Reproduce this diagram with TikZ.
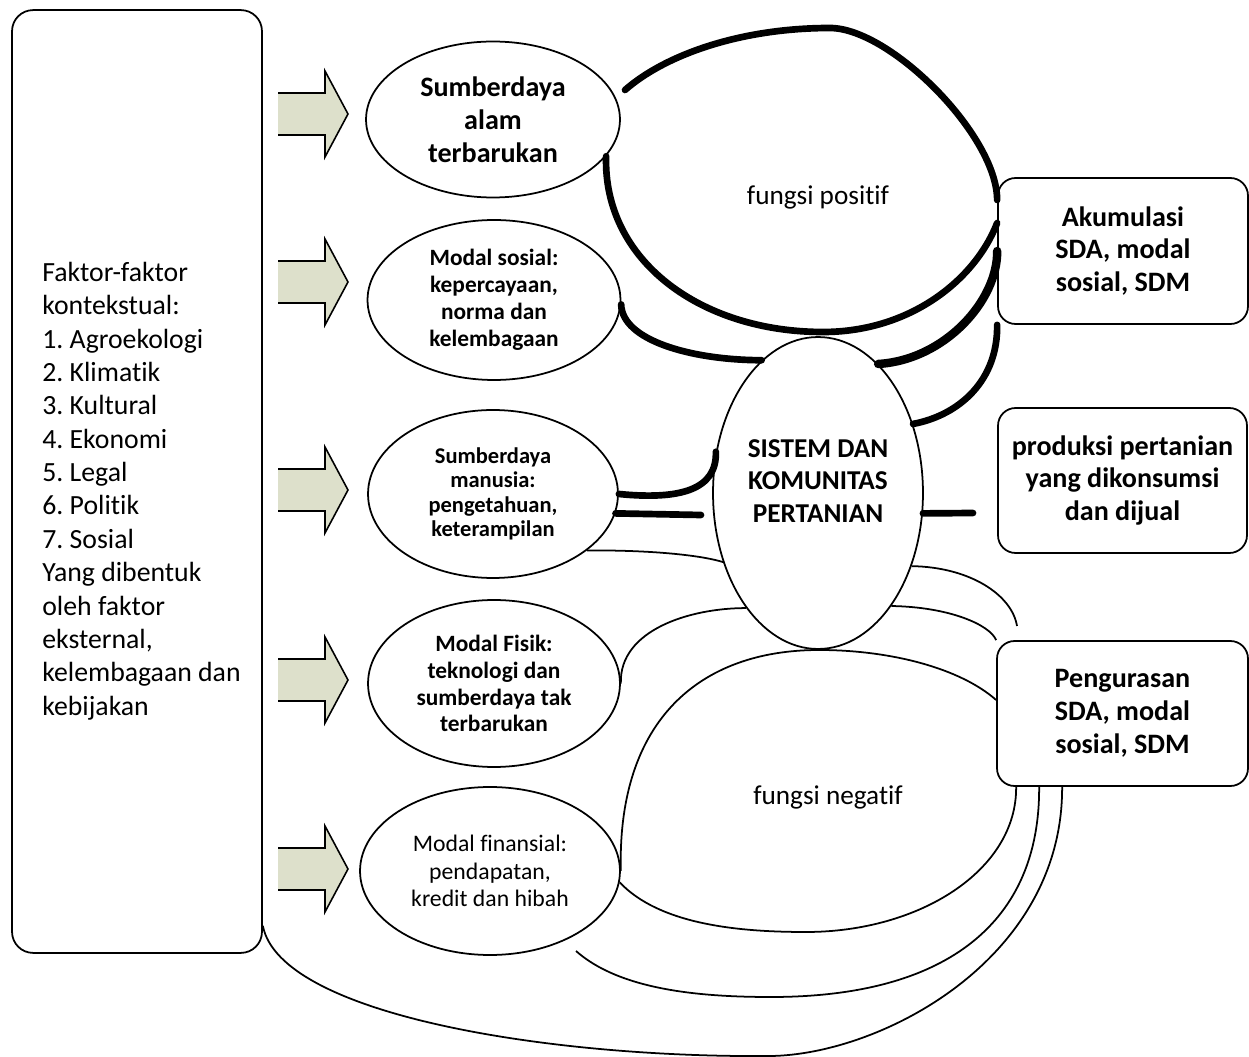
\documentclass[tikz,border=0pt]{standalone}
\usepackage{fontspec}
\setmainfont{Carlito}[Ligatures=NoCommon]
\usetikzlibrary{shapes.geometric}
\definecolor{arrowfill}{RGB}{221,224,203}
\frenchspacing

\begin{document}
\begin{tikzpicture}[
  x=0.02cm,
  y=-0.02cm,
  line/.style={draw=black,line width=1pt},
  posline/.style={draw=black,line width=3.8pt,line cap=round},
  capital/.style={line,ellipse,inner sep=0pt,align=center,
                  font=\bfseries\fontsize{13.3}{15.3}\selectfont},
  outcome/.style={line,rounded corners=10pt,align=center,minimum width=5cm,minimum height=2.9cm,
                  font=\bfseries\fontsize{16}{18.7}\selectfont},
  fungsi/.style={font=\fontsize{15.5}{17}\selectfont}
]
\useasboundingbox (0,0) rectangle (1249,1057);

% ---------------------------------------------------------------- contextual factors
\node[line,rounded corners=12pt,minimum width=5cm,minimum height=18.86cm] (faktor) at (137,481.5) {};
\node[align=left,anchor=west,inner sep=0pt,font=\fontsize{15.8}{19}\selectfont] (faktortext) at (42,491)
  {Faktor-faktor\\kontekstual:\\1. Agroekologi\\2. Klimatik\\3. Kultural\\4. Ekonomi\\5. Legal\\
   6. Politik\\7. Sosial\\Yang dibentuk\\oleh faktor\\eksternal,\\kelembagaan dan\\kebijakan};

% block arrows (open tail)
\foreach \ay in {114,282,490,680,869}{
  \fill[arrowfill] (278,{\ay-21}) -- (325,{\ay-21}) -- (325,{\ay-43}) -- (348,\ay)
    -- (325,{\ay+43}) -- (325,{\ay+21}) -- (278,{\ay+21}) -- cycle;
  \draw[line,line width=0.9pt] (278,{\ay-21}) -- (325,{\ay-21}) -- (325,{\ay-43}) -- (348,\ay)
    -- (325,{\ay+43}) -- (325,{\ay+21}) -- (278,{\ay+21});
}

% ---------------------------------------------------------------- capitals
\node[capital,minimum width=5.08cm,minimum height=3.12cm,font=\bfseries\fontsize{16}{18.7}\selectfont]
  (alam) at (493,119.5) {Sumberdaya\\alam\\terbarukan};
\node[capital,minimum width=5.06cm,minimum height=3.2cm] (sosial) at (494,300)
  {Modal sosial:\\kepercayaan,\\norma dan\\kelembagaan};
\node[capital,minimum width=5.0cm,minimum height=3.36cm,font=\bfseries\fontsize{12.8}{13.8}\selectfont]
  (manusia) at (493,494) {Sumberdaya\\manusia:\\pengetahuan,\\keterampilan};
\node[capital,minimum width=5.04cm,minimum height=3.34cm] (fisik) at (494,683.5)
  {Modal Fisik:\\teknologi dan\\sumberdaya tak\\terbarukan};
\node[capital,minimum width=5.2cm,minimum height=3.36cm,font=\fontsize{13.5}{15.5}\selectfont]
  (finansial) at (490,871) {Modal finansial:\\pendapatan,\\kredit dan hibah};

% ---------------------------------------------------------------- system and outcomes
\node[capital,minimum width=4.2cm,minimum height=6.24cm] (sistem) at (818,493) {};
\node[align=center,inner sep=0pt,font=\bfseries\fontsize{15.5}{18.7}\selectfont] (sistemtext) at (818,481)
  {SISTEM DAN\\KOMUNITAS\\PERTANIAN};
\node[outcome,minimum width=5cm,minimum height=2.92cm] (akum) at (1123,251)
  {Akumulasi\\SDA, modal\\sosial, SDM};
\node[outcome,minimum width=4.98cm] (produksi) at (1122.5,480.5)
  {produksi pertanian\\yang dikonsumsi\\dan dijual};
\node[outcome,minimum width=5.02cm] (kuras) at (1122.5,713.5)
  {Pengurasan\\SDA, modal\\sosial, SDM};

\node[fungsi] (positif) at (818,197) {fungsi positif};
\node[fungsi] (negatif) at (828,797) {fungsi negatif};

% free ends
\coordinate (loop-start) at (625,90);
\coordinate (sdm-gap) at (701,515);
\coordinate (prod-gap) at (973,513);
\coordinate (kuras-gap) at (1017,626);
\coordinate (fin-gap) at (576,951);

% ---------------------------------------------------------------- positive links (thick)
\draw[posline] (loop-start) .. controls (665,55) and (740,28) .. (830,28)
  .. controls (890,28) and (997,135) .. ([yshift=1.02cm]akum.west);
\draw[posline] (alam.-18) .. controls (603,260) and (700,332) .. (823,332)
  .. controls (910,332) and (975,280) .. ([yshift=0.56cm]akum.west);
\draw[posline] (sosial.-2) .. controls (622,340) and (690,360) .. (sistem.113);
\draw[posline,line width=4.8pt] (sistem.65) .. controls (945,360) and (998,300) .. (akum.west);
\draw[posline] (sistem.36) .. controls (960,415) and (998,380) .. (akum.south west);
\draw[posline] (manusia.east) .. controls (680,500) and (717,490) .. (sistem.158);
\draw[posline] (manusia.-9) -- (sdm-gap);
\draw[posline] (sistem.-11) -- (prod-gap);

% ---------------------------------------------------------------- negative links (thin)
\draw[line] (manusia.-31) .. controls (650,550) and (700,555) .. (sistem.216);
\draw[line] (fisik.east) .. controls (619,630) and (690,608) .. (sistem.238);
\draw[line] (sistem.-57) .. controls (950,607) and (990,625) .. (kuras.north west);
\draw[line] (sistem.-38) .. controls (970,567) and (1012,595) .. (kuras-gap);
\draw[line] ([yshift=0.27cm]kuras.west) .. controls (960,668) and (890,650) .. (819,650)
  .. controls (700,650) and (617,720) .. (finansial.east);
\draw[line] (finansial.-5) .. controls (660,925) and (740,932) .. (806,932)
  .. controls (920,932) and (1017,870) .. ([xshift=0.4cm]kuras.south west);
\draw[line] (fin-gap) .. controls (620,990) and (700,997) .. (771,997)
  .. controls (950,997) and (1040,920) .. ([xshift=0.86cm]kuras.south west);
\draw[line] ([yshift=0.56cm]faktor.south east) .. controls (280,1015) and (550,1058) .. (770,1056)
  .. controls (880,1055) and (1063,960) .. ([xshift=1.32cm]kuras.south west);

\end{tikzpicture}
\end{document}
